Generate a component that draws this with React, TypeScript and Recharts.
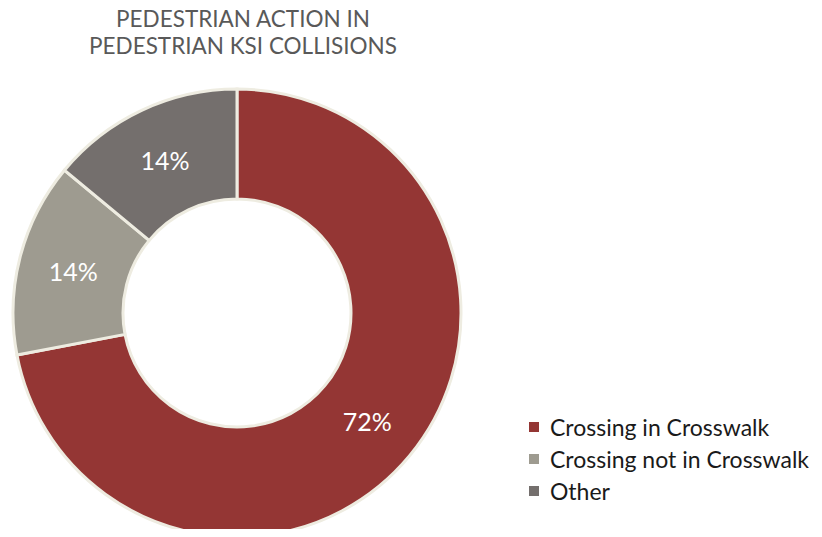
import React from "react";
import { PieChart, Pie, Cell, Legend } from "recharts";

const categories = ["Crossing in Crosswalk", "Crossing not in Crosswalk", "Other"];
const values = [72, 14, 14];
const colors = ["#943634", "#9e9b90", "#746f6d"];
const titleLines = ["PEDESTRIAN ACTION IN", "PEDESTRIAN KSI COLLISIONS"];

const data = categories.map((name, i) => ({ name, value: values[i] }));
const FONT = "Lato, 'Open Sans', sans-serif";
const RAD = Math.PI / 180;

const renderLabel = (props: any) => {
  const { cx, cy, midAngle, innerRadius, outerRadius, value } = props;
  const r = (innerRadius + outerRadius) / 2;
  const x = cx + r * Math.cos(-midAngle * RAD);
  const y = cy + r * Math.sin(-midAngle * RAD);
  return (
    <text x={x} y={y} fill="#ffffff" fontSize={25} fontFamily={FONT} textAnchor="middle" dominantBaseline="central">
      {`${value}%`}
    </text>
  );
};

const renderLegend = (props: any) => {
  const { payload } = props;
  return (
    <div style={{ fontFamily: FONT }}>
      {(payload || []).map((p: any, i: number) => (
        <div key={i} style={{ display: "flex", alignItems: "center", height: 32 }}>
          <span style={{ width: 10, height: 10, background: p.color, display: "inline-block", marginRight: 11 }} />
          <span style={{ fontSize: 23, color: "#1a1a1a" }}>{p.value}</span>
        </div>
      ))}
    </div>
  );
};

export default function App() {
  return (
    <div style={{ position: "relative", width: 822, height: 537, margin: -8, overflow: "hidden", background: "#fff" }}>
      <div
        style={{
          position: "absolute",
          left: 0,
          top: 5,
          width: 486,
          textAlign: "center",
          fontFamily: FONT,
          fontSize: 22.5,
          lineHeight: "27px",
          color: "#595959",
          zIndex: 2,
        }}
      >
        {titleLines.map((t, i) => (
          <div key={i}>{t}</div>
        ))}
      </div>
      <PieChart width={822} height={537} margin={{ top: 0, right: 0, bottom: 0, left: 0 }}>
        <Pie
          data={data}
          dataKey="value"
          nameKey="name"
          cx={237}
          cy={313}
          innerRadius={114}
          outerRadius={224}
          startAngle={90}
          endAngle={-270}
          stroke="#eeece1"
          strokeWidth={3}
          label={renderLabel}
          labelLine={false}
          isAnimationActive={false}
        >
          {data.map((d, i) => (
            <Cell key={d.name} fill={colors[i]} />
          ))}
        </Pie>
        <Legend
          content={renderLegend}
          layout="vertical"
          wrapperStyle={{ position: "absolute", left: 529, top: 411, width: 290 }}
        />
      </PieChart>
    </div>
  );
}
